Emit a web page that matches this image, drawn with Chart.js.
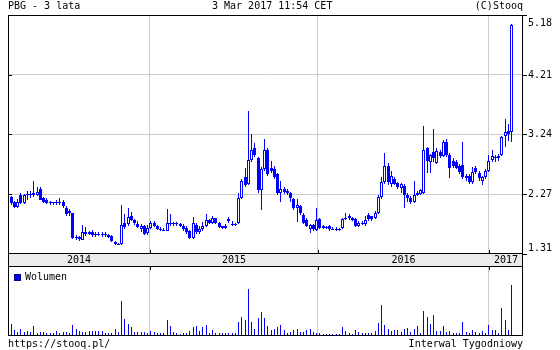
<!DOCTYPE html>
<html>
<head>
<meta charset="utf-8">
<title>PBG - 3 lata</title>
<script src="https://cdn.jsdelivr.net/npm/chart.js@4.4.1/dist/chart.umd.min.js"></script>
<style>
    html, body { margin: 0; padding: 0; background: #fff; }
    #wrap { position: relative; width: 560px; height: 350px; overflow: hidden;
            font: 10px 'DejaVu Sans Mono', monospace; color: #000; }
    #wrap canvas { position: absolute; left: 0; top: 0; }
    .txt { position: absolute; white-space: pre; line-height: 12px; }
</style>
</head>
<body>
<div id="wrap">
    <canvas id="priceChart" width="560" height="350"></canvas>
    <canvas id="volChart" width="560" height="350"></canvas>
    <div class="txt" style="left:8px;top:0px">PBG - 3 lata</div>
    <div class="txt" style="left:212px;top:0px">3 Mar 2017 11:54 CET</div>
    <div class="txt" style="right:37px;top:0px">(C)Stooq</div>
    <div class="txt" style="left:8px;top:338px">https://stooq.pl/</div>
    <div class="txt" style="right:37px;top:338px">Interwal Tygodniowy</div>
</div>
<script>
'use strict';

// ── Data (weekly candles, Mar 2014 – Mar 2017) ────────────────────────────
const OPEN = [
    2.24, 2.15, 2.07, 2.27, 2.14, 2.26, 2.28, 2.26, 2.27, 2.37,
    2.21, 2.18, 2.15, 2.13, 2.16, 2.13, 2.15, 2.06, 2.00, 1.97,
    1.57, 1.58, 1.54, 1.66, 1.64, 1.66, 1.63, 1.64, 1.62, 1.64,
    1.62, 1.60, 1.50, 1.47, 1.47, 1.82, 1.79, 1.92, 1.86, 1.80,
    1.71, 1.76, 1.65, 1.73, 1.82, 1.76, 1.72, 1.70, 1.69, 1.82,
    1.79, 1.81, 1.79, 1.77, 1.73, 1.68, 1.57, 1.78, 1.66, 1.71,
    1.76, 1.86, 1.81, 1.89, 1.81, 1.76, 1.73, 1.88, 1.80, 1.79,
    1.81, 2.22, 2.55, 2.45, 2.83, 3.02, 2.86, 2.34, 2.68, 3.00,
    2.70, 2.68, 2.60, 2.29, 2.36, 2.33, 2.29, 2.20, 2.05, 2.08,
    1.94, 1.86, 1.71, 1.78, 1.70, 1.87, 1.76, 1.74, 1.76, 1.72,
    1.72, 1.70, 1.73, 1.88, 1.93, 1.89, 1.87, 1.76, 1.81, 1.80,
    1.94, 1.92, 1.90, 1.97, 2.23, 2.47, 2.73, 2.45, 2.52, 2.46,
    2.38, 2.41, 2.26, 2.22, 2.16, 2.27, 2.28, 2.30, 3.02, 2.80,
    2.96, 2.78, 2.96, 2.90, 3.12, 2.91, 2.82, 2.80, 2.73, 2.75,
    2.54, 2.58, 2.47, 2.70, 2.62, 2.50, 2.55, 2.66, 2.83, 2.86,
    2.86, 2.91, 3.22, 3.30, 3.28
];
const HIGH = [
    2.25, 2.17, 2.20, 2.29, 2.28, 2.33, 2.33, 2.50, 2.40, 2.39,
    2.24, 2.22, 2.17, 2.16, 2.18, 2.22, 2.18, 2.08, 2.04, 1.98,
    1.62, 1.60, 1.78, 1.74, 1.68, 1.70, 1.66, 1.67, 1.66, 1.66,
    1.63, 1.62, 1.52, 1.49, 2.10, 1.95, 2.05, 1.99, 1.88, 1.85,
    1.80, 1.78, 1.78, 1.85, 1.84, 1.78, 1.75, 1.73, 2.04, 1.95,
    1.83, 1.83, 1.81, 1.79, 1.76, 1.70, 1.91, 1.82, 1.76, 1.83,
    1.95, 1.88, 1.93, 1.90, 1.83, 1.77, 1.79, 1.91, 1.84, 1.82,
    2.30, 2.52, 2.70, 3.62, 3.26, 3.10, 2.88, 2.72, 3.18, 3.02,
    2.82, 2.73, 2.62, 2.50, 2.40, 2.36, 2.32, 2.22, 2.20, 2.10,
    1.97, 1.89, 1.80, 1.80, 2.05, 1.90, 1.78, 1.76, 1.78, 1.74,
    1.74, 1.73, 1.90, 1.97, 1.95, 1.91, 1.89, 1.84, 1.84, 1.92,
    1.98, 1.93, 2.00, 2.26, 2.55, 2.94, 2.78, 2.65, 2.55, 2.48,
    2.46, 2.44, 2.30, 2.25, 2.50, 2.33, 2.36, 3.39, 3.05, 2.93,
    3.33, 3.02, 2.99, 3.15, 3.18, 2.94, 2.86, 2.83, 2.76, 3.13,
    2.60, 2.61, 2.72, 2.73, 2.65, 2.58, 2.68, 2.92, 3.00, 2.92,
    2.93, 3.22, 3.50, 3.42, 5.03
];
const LOW = [
    2.10, 2.06, 2.05, 2.12, 2.12, 2.18, 2.22, 2.24, 2.25, 2.18,
    2.14, 2.12, 2.10, 2.11, 2.10, 2.10, 2.05, 1.93, 1.93, 1.55,
    1.53, 1.52, 1.53, 1.60, 1.61, 1.58, 1.58, 1.60, 1.59, 1.59,
    1.57, 1.50, 1.45, 1.45, 1.46, 1.72, 1.77, 1.84, 1.78, 1.73,
    1.66, 1.62, 1.62, 1.71, 1.74, 1.70, 1.68, 1.68, 1.68, 1.77,
    1.77, 1.76, 1.74, 1.69, 1.64, 1.55, 1.56, 1.64, 1.64, 1.69,
    1.74, 1.80, 1.79, 1.80, 1.73, 1.71, 1.72, 1.82, 1.77, 1.77,
    1.79, 2.20, 2.40, 2.43, 2.80, 2.88, 2.30, 2.03, 2.66, 2.58,
    2.62, 2.52, 2.27, 2.15, 2.28, 2.26, 2.16, 2.02, 1.83, 1.94,
    1.79, 1.74, 1.65, 1.69, 1.68, 1.71, 1.71, 1.72, 1.69, 1.70,
    1.69, 1.68, 1.72, 1.86, 1.86, 1.84, 1.74, 1.74, 1.78, 1.76,
    1.84, 1.84, 1.88, 1.95, 2.20, 2.45, 2.42, 2.40, 2.42, 2.36,
    2.30, 2.05, 2.16, 2.12, 2.14, 2.25, 2.26, 2.28, 2.62, 2.62,
    2.80, 2.76, 2.86, 2.88, 2.88, 2.54, 2.70, 2.68, 2.60, 2.52,
    2.50, 2.44, 2.45, 2.60, 2.50, 2.42, 2.53, 2.64, 2.80, 2.80,
    2.82, 2.89, 3.05, 3.14, 3.12
];
const CLOSE = [
    2.13, 2.07, 2.16, 2.14, 2.26, 2.28, 2.26, 2.30, 2.32, 2.19,
    2.16, 2.14, 2.13, 2.15, 2.14, 2.16, 2.08, 1.96, 1.97, 1.57,
    1.58, 1.55, 1.66, 1.64, 1.66, 1.62, 1.64, 1.62, 1.64, 1.61,
    1.59, 1.52, 1.47, 1.47, 1.78, 1.75, 1.91, 1.86, 1.81, 1.75,
    1.76, 1.63, 1.73, 1.81, 1.77, 1.72, 1.70, 1.69, 1.81, 1.79,
    1.81, 1.79, 1.77, 1.72, 1.66, 1.57, 1.81, 1.66, 1.71, 1.76,
    1.86, 1.82, 1.89, 1.81, 1.75, 1.73, 1.77, 1.84, 1.79, 1.80,
    2.21, 2.50, 2.42, 2.83, 3.00, 2.91, 2.34, 2.68, 2.99, 2.61,
    2.66, 2.56, 2.29, 2.36, 2.31, 2.29, 2.21, 2.05, 2.10, 1.97,
    1.81, 1.76, 1.78, 1.71, 1.86, 1.73, 1.73, 1.75, 1.71, 1.72,
    1.70, 1.71, 1.87, 1.90, 1.89, 1.86, 1.76, 1.82, 1.82, 1.86,
    1.87, 1.88, 1.98, 2.23, 2.47, 2.73, 2.47, 2.57, 2.44, 2.40,
    2.44, 2.26, 2.21, 2.15, 2.27, 2.30, 2.34, 3.00, 2.82, 2.91,
    2.86, 2.98, 2.90, 3.12, 2.92, 2.70, 2.74, 2.71, 2.63, 2.55,
    2.57, 2.47, 2.63, 2.63, 2.54, 2.55, 2.66, 2.81, 2.90, 2.88,
    2.90, 3.20, 3.28, 3.26, 5.02
];
const VOLUME = [
    250, 120,  95, 140,  90, 105,  90, 215,  70,  90,
     90,  72,  70,  70, 105,  70,  85,  85,  70, 235,
    140, 105,  90,  90, 105, 105, 105, 105, 105,  70,
     70,  70, 140,  90, 740, 360, 260, 180,  90,  90,
     90,  90,  70, 105,  90,  72,  70,  70, 340, 215,
     90,  70,  50,  70,  70, 105, 190, 215, 105, 190,
    235,  70, 125,  70,  65,  65,  65,  70,  70,  70,
    300, 400, 340, 985, 300, 140, 380, 500, 380, 215,
    120, 140, 190, 235, 120,  70,  85, 120, 140,  90,
     90, 120, 140,  90,  72,  65,  50,  50,  50,  50,
     50,  50, 180, 105,  70,  50, 120,  85,  70,  65,
     70,  65, 105, 280, 660, 240, 140, 105, 125, 125,
     90, 140, 165,  85, 140, 215,  70, 520, 400, 260,
    450, 105, 105, 215,  90, 105,  70,  70,  70, 300,
     85,  70, 120,  85,  70, 105,  60, 235, 125, 125,
     70, 600, 340, 125, 1080
];

// axis values (week index on x, price on y)
const X_MIN = -1;
const X_MAX = 157.5;
const YEAR_STARTS = [42.7, 94.4, 147.0];
const YEAR_LABELS = ['2014', '2015', '2016', '2017'];
const Y_TICKS = [1.31, 2.2775, 3.245, 4.2125, 5.18];
const Y_LABELS = ['1.31', '2.27', '3.24', '4.21', '5.18'];
const VOL_MAX = 1480;

// ── Style ────────────────────────────────────────────────────────────────
const BLUE = '#0000ff';
const GRID = '#cccccc';
const BAND = '#ebebeb';
const FONT = "10px 'DejaVu Sans Mono', monospace";

const weeks = OPEN.map((_, i) => i);

// snap bars to whole pixels so the 1px wicks stay crisp
const snapBars = {
    id: 'snapBars',
    beforeDatasetsDraw(chart) {
        chart.data.datasets.forEach((ds, i) => {
            chart.getDatasetMeta(i).data.forEach(el => {
                el.x = Math.floor(el.x) + 0.5;
                el.y = Math.round(el.y);
                el.base = Math.round(el.base);
                if (Math.abs(el.base - el.y) < 1) el.base = el.y + 1;
            });
        });
    }
};

function tickLine(ctx, x1, y1, x2, y2) {
    ctx.beginPath(); ctx.moveTo(x1, y1); ctx.lineTo(x2, y2); ctx.stroke();
}

// frame, tick marks, right labels and the year band
const priceDecor = {
    id: 'priceDecor',
    afterDraw(chart) {
        const { ctx, chartArea: a, scales: { x, y } } = chart;
        ctx.save();
        ctx.fillStyle = BAND;
        ctx.fillRect(a.left, a.bottom, a.right - a.left, 12);

        ctx.strokeStyle = '#000';
        ctx.lineWidth = 1;
        ctx.strokeRect(a.left + 0.5, a.top + 0.5, a.right - a.left - 1, a.bottom - a.top - 1);
        // left edge line through the band
        tickLine(ctx, a.left + 0.5, a.bottom, a.left + 0.5, a.bottom + 12);
        tickLine(ctx, a.right - 0.5, a.bottom, a.right - 0.5, a.bottom + 12);

        ctx.font = FONT;
        ctx.fillStyle = '#000';
        ctx.textAlign = 'left';
        ctx.textBaseline = 'middle';
        Y_TICKS.forEach((v, i) => {
            const py = Math.round(y.getPixelForValue(v)) + 0.5;
            tickLine(ctx, a.right, py, a.right + 4, py);
            if (i > 0 && i < Y_TICKS.length - 1) tickLine(ctx, a.left, py, a.left + 4, py);
            const ly = Math.max(a.top + 8, Math.min(a.bottom - 6, py));
            ctx.fillText(Y_LABELS[i], a.right + 5, ly);
        });
        YEAR_STARTS.forEach(v => {
            const px = Math.round(x.getPixelForValue(v)) + 0.5;
            tickLine(ctx, px, a.bottom - 4, px, a.bottom);
        });

        const edges = [X_MIN, ...YEAR_STARTS, X_MAX];
        ctx.textAlign = 'center';
        YEAR_LABELS.forEach((lbl, i) => {
            const px = x.getPixelForValue((edges[i] + edges[i + 1]) / 2);
            ctx.fillText(lbl, px, a.bottom + 6.5);
        });
        ctx.restore();
    }
};

const volDecor = {
    id: 'volDecor',
    afterDraw(chart) {
        const { ctx, chartArea: a, scales: { x } } = chart;
        ctx.save();
        ctx.strokeStyle = '#000';
        ctx.lineWidth = 1;
        ctx.strokeRect(a.left + 0.5, a.top + 0.5, a.right - a.left - 1, a.bottom - a.top - 1);
        YEAR_STARTS.forEach(v => {
            const px = Math.round(x.getPixelForValue(v)) + 0.5;
            tickLine(ctx, px, a.top, px, a.top + 4);
        });
        // legend
        ctx.fillStyle = BLUE;
        ctx.fillRect(a.left + 6, a.top + 8, 7, 7);
        ctx.strokeStyle = '#000080';
        ctx.strokeRect(a.left + 6.5, a.top + 8.5, 6, 6);
        ctx.fillStyle = '#000';
        ctx.font = FONT;
        ctx.textAlign = 'left';
        ctx.textBaseline = 'middle';
        ctx.fillText('Wolumen', a.left + 17, a.top + 11.5);
        ctx.restore();
    }
};

const xAxis = (height) => ({
    type: 'linear', min: X_MIN, max: X_MAX, offset: false,
    afterFit: s => { s.height = height; },
    afterBuildTicks: s => { s.ticks = YEAR_STARTS.map(v => ({ value: v })); },
    ticks: { display: false },
    grid: { color: GRID, drawTicks: false, offset: false },
    border: { display: false }
});

// ── Price chart ──────────────────────────────────────────────────────────
new Chart(document.getElementById('priceChart').getContext('2d'), {
    type: 'bar',
    data: {
        datasets: [
            {
                data: weeks.map(i => ({ x: i, y: [OPEN[i], CLOSE[i]] })),
                backgroundColor: weeks.map(i => CLOSE[i] >= OPEN[i] ? '#ffffff' : BLUE),
                borderColor: BLUE, borderWidth: 1, borderSkipped: false,
                barThickness: 3, grouped: false, inflateAmount: 0
            },
            {
                data: weeks.map(i => ({ x: i, y: [LOW[i], HIGH[i]] })),
                backgroundColor: BLUE, borderWidth: 0,
                barThickness: 1, grouped: false, inflateAmount: 0
            }
        ]
    },
    options: {
        responsive: false, animation: false, events: [],
        layout: { padding: { left: 8, top: 15, right: 0, bottom: 0 } },
        plugins: { legend: { display: false }, tooltip: { enabled: false } },
        scales: {
            x: xAxis(96),
            y: {
                position: 'right', min: Y_TICKS[0], max: Y_TICKS[Y_TICKS.length - 1],
                afterFit: s => { s.width = 37; },
                afterBuildTicks: s => { s.ticks = Y_TICKS.map(v => ({ value: v })); },
                ticks: { display: false },
                grid: {
                    drawTicks: false,
                    color: c => (c.index === 0 || c.index === Y_TICKS.length - 1) ? 'rgba(0,0,0,0)' : GRID
                },
                border: { display: false }
            }
        }
    },
    plugins: [snapBars, priceDecor]
});

// ── Volume chart ─────────────────────────────────────────────────────────
new Chart(document.getElementById('volChart').getContext('2d'), {
    type: 'bar',
    data: {
        datasets: [{
            data: weeks.map(i => ({ x: i, y: VOLUME[i] })),
            backgroundColor: BLUE, borderWidth: 0,
            barThickness: 1, inflateAmount: 0
        }]
    },
    options: {
        responsive: false, animation: false, events: [],
        layout: { padding: { left: 8, top: 266, right: 37, bottom: 0 } },
        plugins: { legend: { display: false }, tooltip: { enabled: false } },
        scales: {
            x: xAxis(14),
            y: { display: false, min: 0, max: VOL_MAX }
        }
    },
    plugins: [snapBars, volDecor]
});
</script>
</body>
</html>
